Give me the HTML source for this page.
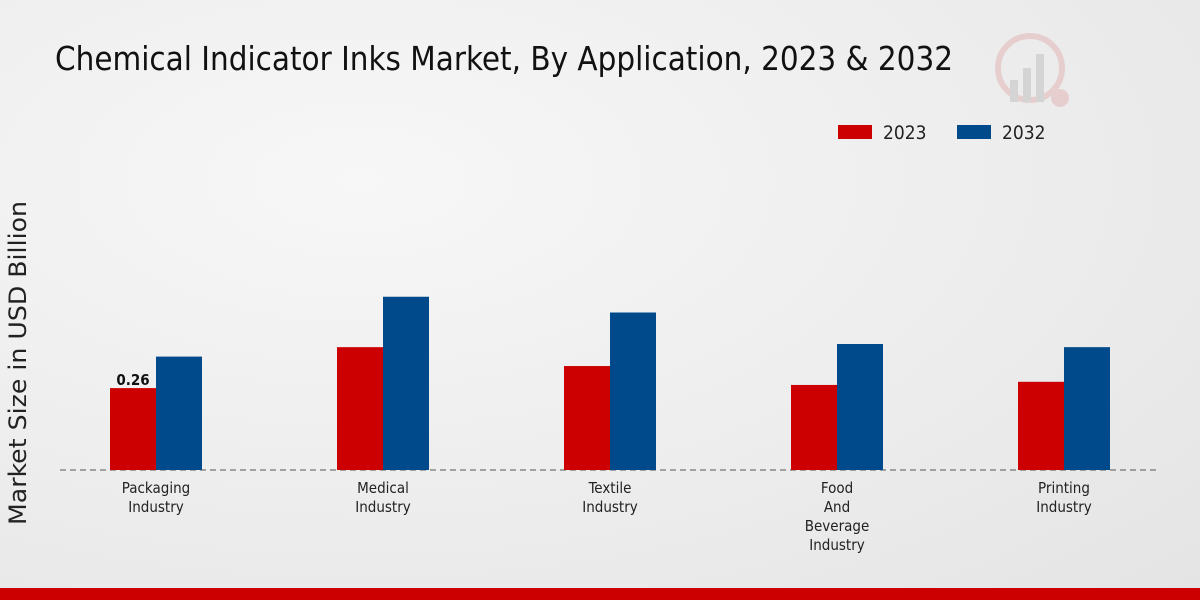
<!DOCTYPE html>
<html><head><meta charset="utf-8"><style>
body{margin:0;width:1200px;height:600px;overflow:hidden;font-family:"DejaVu Sans Condensed","Liberation Sans",sans-serif}
#bg{position:absolute;left:0;top:0;width:1200px;height:600px;background:radial-gradient(ellipse at 30% 30%,#f7f7f7 0%,#ececec 60%,#e4e4e4 100%)}
svg text{font-family:"DejaVu Sans Condensed","Liberation Sans",sans-serif}
</style></head><body>
<div id="bg"></div>
<svg id="chart" width="1200" height="600" style="position:absolute;left:0;top:0">
<text x="55" y="70" font-size="33" fill="#111" textLength="898" lengthAdjust="spacingAndGlyphs">Chemical Indicator Inks Market, By Application, 2023 &amp; 2032</text>
<g opacity="0.35">
<circle cx="1030" cy="68" r="32" fill="none" stroke="#d99" stroke-width="6"/>
<rect x="1010" y="80" width="8" height="22" fill="#aaa"/><rect x="1023" y="68" width="8" height="34" fill="#aaa"/><rect x="1036" y="54" width="8" height="48" fill="#aaa"/>
<circle cx="1060" cy="98" r="9" fill="#d99"/>
</g>
<g>
<rect x="838" y="125" width="34" height="14" fill="#cc0000"/>
<text x="883" y="139" font-size="19" fill="#222">2023</text>
<rect x="957" y="125" width="34" height="14" fill="#004a8c"/>
<text x="1002" y="139" font-size="19" fill="#222">2032</text>
</g>
<text transform="translate(26,363) rotate(-90)" text-anchor="middle" font-size="24" fill="#222" textLength="324" lengthAdjust="spacingAndGlyphs">Market Size in USD Billion</text>
<line x1="60" y1="470" x2="1160" y2="470" stroke="#555" stroke-dasharray="6,4"/>
<g id="bars"></g>
<rect x="0" y="588" width="1200" height="12" fill="#cc0000"/>
</svg>
<script>
const categories=[["Packaging","Industry"],["Medical","Industry"],["Textile","Industry"],["Food","And","Beverage","Industry"],["Printing","Industry"]];
const values2023=[0.26,0.39,0.33,0.27,0.28];
const values2032=[0.36,0.55,0.50,0.40,0.39];
const labels2023=["0.26","","","",""];
const baseY=470, scale=315, x0=156, step=227, bw=46;
const y=v=>baseY-v*scale;
const g=document.getElementById('bars');
const NS='http://www.w3.org/2000/svg';
function mk(t,a){const e=document.createElementNS(NS,t);for(const k in a)e.setAttribute(k,a[k]);g.appendChild(e);return e;}
categories.forEach((c,i)=>{
 const cx=x0+i*step;
 const r=mk('rect',{x:cx-bw,y:y(values2023[i]),width:bw,height:baseY-y(values2023[i]),fill:'#cc0000'});
 
 
 const b=mk('rect',{x:cx,y:y(values2032[i]),width:bw,height:baseY-y(values2032[i]),fill:'#004a8c'});
 
 
 if(labels2023[i]){const t=mk('text',{x:cx-bw/2,y:y(values2023[i])-3,'text-anchor':'middle','font-size':15,'font-weight':'bold',fill:'#111'});t.textContent=labels2023[i];
 
 }
 c.forEach((line,j)=>{const t=mk('text',{x:cx,y:493+j*19,'text-anchor':'middle','font-size':15,fill:'#222'});t.textContent=line;
 
 });
});
</script>
</body></html>
